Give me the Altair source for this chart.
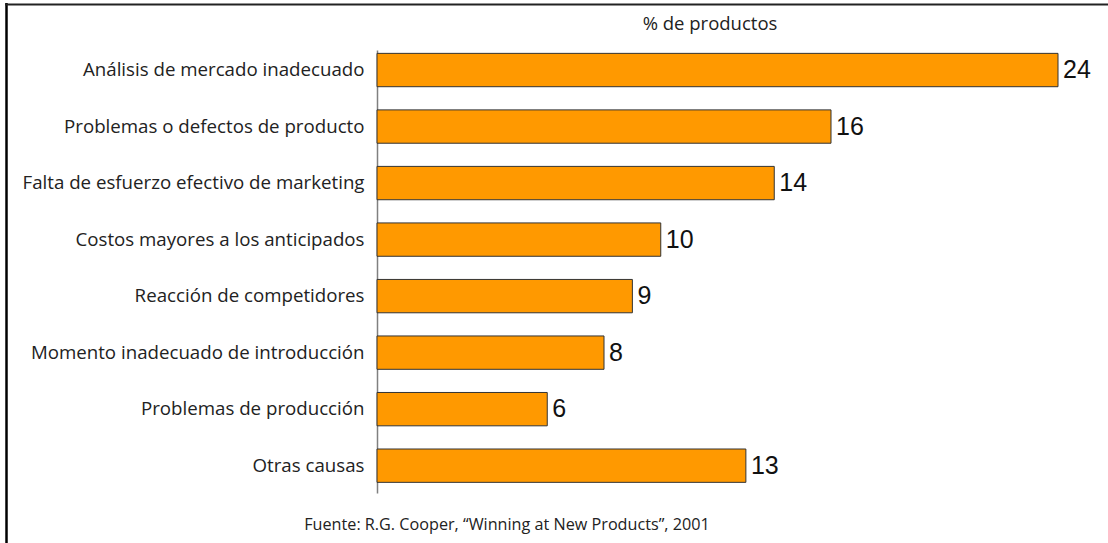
import altair as alt
import pandas as pd

categories = [
    "Análisis de mercado inadecuado",
    "Problemas o defectos de producto",
    "Falta de esfuerzo efectivo de marketing",
    "Costos mayores a los anticipados",
    "Reacción de competidores",
    "Momento inadecuado de introducción",
    "Problemas de producción",
    "Otras causas",
]
values = [24, 16, 14, 10, 9, 8, 6, 13]
title_text = ["% de productos"]
footer_text = ["Fuente: R.G. Cooper, “Winning at New Products”, 2001"]

df = pd.DataFrame({"cat": categories, "val": values})

W, H = 681, 443
PL, PT = 377, 50

y_enc = alt.Y(
    "cat:N",
    sort=categories,
    scale=alt.Scale(paddingInner=0.41, paddingOuter=0.124, align=0.24),
    axis=alt.Axis(
        title=None,
        ticks=False,
        domain=True,
        domainColor="#808080",
        domainWidth=1.5,
        labelFont="Open Sans",
        labelFontSize=18.7,
        labelColor="#222222",
        labelPadding=13,
        labelLimit=400,
    ),
)
x_enc = alt.X("val:Q", scale=alt.Scale(domain=[0, 24], nice=False), axis=None)

bars = alt.Chart(df).mark_bar(
    color="#FF9900", stroke="#333333", strokeWidth=1
).encode(x=x_enc, y=y_enc)

labels = alt.Chart(df).mark_text(
    align="left", baseline="middle", dx=5, font="Liberation Sans", fontSize=25, color="#111111"
).encode(x=x_enc, y=y_enc, text="val:Q")

title = alt.Chart(pd.DataFrame({"t": title_text})).mark_text(
    font="Open Sans", fontSize=18.5, color="#222222", align="center", baseline="middle"
).encode(x=alt.value(710 - PL), y=alt.value(24 - PT), text="t:N")

footer = alt.Chart(pd.DataFrame({"t": footer_text})).mark_text(
    font="Open Sans", fontSize=16.2, color="#222222", align="center", baseline="middle"
).encode(x=alt.value(507 - PL), y=alt.value(525 - PT), text="t:N")

frame_left = alt.Chart(pd.DataFrame({"a": [0]})).mark_rule(
    color="#000000", strokeWidth=2.5
).encode(x=alt.value(6.5 - PL), y=alt.value(3 - PT), y2=alt.value(543 - PT))

frame_top = alt.Chart(pd.DataFrame({"a": [0]})).mark_rule(
    color="#222222", strokeWidth=2
).encode(x=alt.value(5 - PL), x2=alt.value(1108 - PL), y=alt.value(4.5 - PT))

chart = alt.layer(bars, labels, title, footer, frame_left, frame_top).properties(
    width=W,
    height=H,
    autosize=alt.AutoSizeParams(type="none"),
    padding={"left": PL, "top": PT, "right": 1108 - PL - W, "bottom": 543 - PT - H},
    background="white",
).configure_view(stroke=None)

chart.save("out.html", embed_options={"renderer": "svg", "actions": False})
